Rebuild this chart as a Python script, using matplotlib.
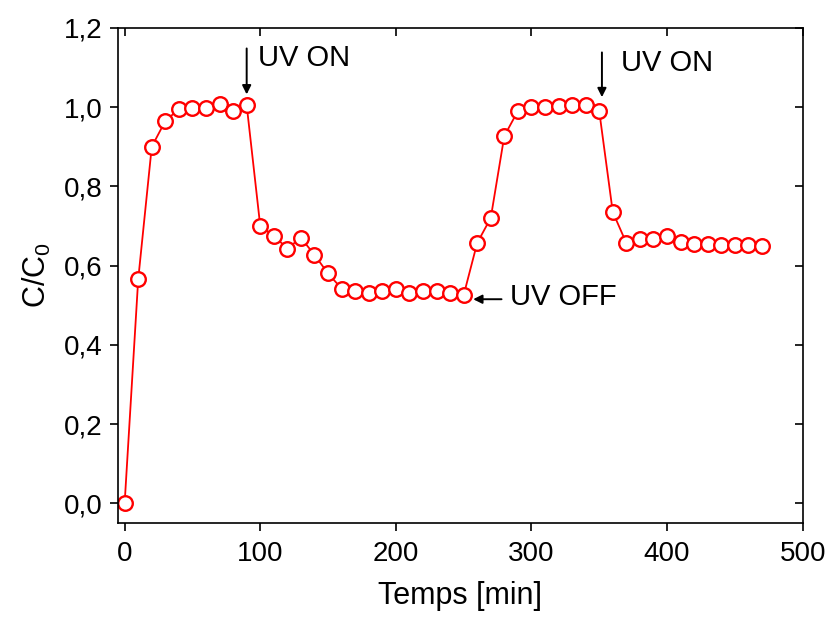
import numpy as np
import matplotlib
matplotlib.use("Agg")
import matplotlib.pyplot as plt
from matplotlib.ticker import FuncFormatter, MultipleLocator

plt.rcParams['font.family'] = ['Liberation Sans', 'DejaVu Sans']

# time [min] and normalised concentration C/C0
temps = np.arange(0, 480, 10)
c_c0 = [0.000, 0.565, 0.900, 0.965, 0.995, 0.998, 0.997, 1.007, 0.990, 1.005,
        0.700, 0.675, 0.643, 0.670, 0.627, 0.580, 0.542, 0.535, 0.530, 0.535,
        0.540, 0.530, 0.535, 0.535, 0.530, 0.525, 0.657, 0.720, 0.927, 0.990,
        1.000, 1.000, 1.003, 1.005, 1.005, 0.990, 0.735, 0.657, 0.668, 0.668,
        0.675, 0.660, 0.655, 0.655, 0.652, 0.652, 0.652, 0.650]

fig = plt.figure(figsize=(8.3, 6.19), dpi=100)
ax = fig.add_axes([0.142, 0.155, 0.825, 0.8])

ax.plot(temps, c_c0, color='red', lw=1.3, marker='o', ms=10.5,
        mfc='white', mec='red', mew=1.7)

ax.set_xlim(-5, 500)
ax.set_ylim(-0.05, 1.2)
ax.xaxis.set_major_locator(MultipleLocator(100))
ax.yaxis.set_major_locator(MultipleLocator(0.2))
ax.yaxis.set_major_formatter(FuncFormatter(lambda v, p: f"{v:.1f}".replace('.', ',')))

ax.tick_params(axis='both', which='major', direction='out', length=6, width=1.2,
               labelsize=20)
ax.tick_params(axis='x', pad=7)
ax.tick_params(axis='y', pad=5)
ax.tick_params(top=True, right=True)
for t in ax.xaxis.get_major_ticks():
    t.tick2line.set_marker(3)
for t in ax.yaxis.get_major_ticks():
    t.tick2line.set_marker(0)
for s in ax.spines.values():
    s.set_linewidth(1.2)

ax.set_xlabel('Temps [min]', fontsize=22, labelpad=10)
ax.set_ylabel(r'C/C$_\mathregular{0}$', fontsize=22, labelpad=8)

arrow = dict(arrowstyle='-|>', color='black', lw=1.4, mutation_scale=13)
ax.annotate('', xy=(90, 1.025), xytext=(90, 1.155), arrowprops=arrow)
ax.text(98, 1.125, 'UV ON', fontsize=21, va='center', ha='left')
ax.annotate('', xy=(352, 1.018), xytext=(352, 1.145), arrowprops=arrow)
ax.text(366, 1.112, 'UV ON', fontsize=21, va='center', ha='left')
ax.annotate('', xy=(255, 0.515), xytext=(280, 0.515), arrowprops=arrow)
ax.text(284, 0.52, 'UV OFF', fontsize=21, va='center', ha='left')

fig.savefig('out.png', dpi=100)
